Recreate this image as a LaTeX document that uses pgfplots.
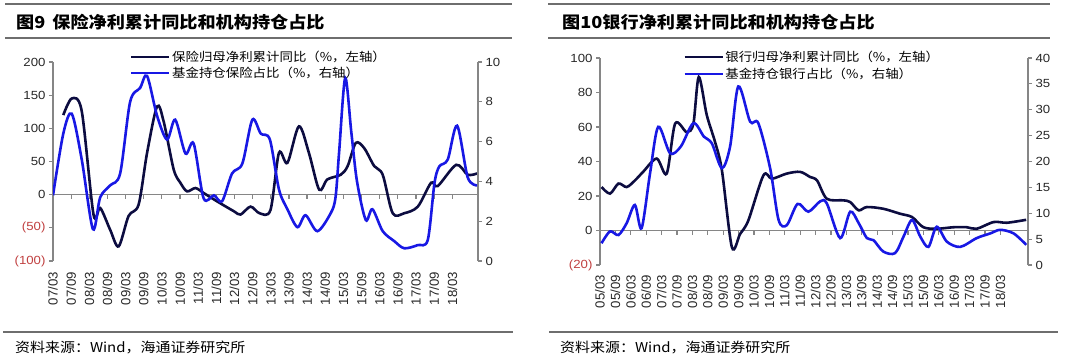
\documentclass[border=0pt]{standalone}
\usepackage{pgfplots}
\pgfplotsset{compat=1.18}
\usepackage{pgfplotstable}
\usepackage{fontspec}
\setmainfont{Liberation Sans}
\newfontfamily\cjk[FakeStretch=1.1]{Noto Sans CJK SC}
\newfontfamily\ytf[FakeStretch=1.12]{Liberation Sans}
\definecolor{navy}{RGB}{12,12,64}
\definecolor{bl}{RGB}{24,24,228}
\definecolor{axgray}{RGB}{134,134,134}
\definecolor{negred}{RGB}{192,64,64}
\definecolor{rulegray}{RGB}{110,110,110}
\definecolor{lbl}{RGB}{40,40,40}

\pgfplotstableread{
m v
3.4 120
6.2 145
9.5 126
13.4 -30
15.6 -20
18.9 -53
21.7 -78
25 -32
28.3 -15
31.1 63
34.4 133
36.6 110
39.9 38
42.1 18
44.3 5
47.1 10
49.8 2.5
54.2 -10
59.8 -25
62 -30
65.3 -18
68.3 -28
71.9 -23
74.7 63
77.5 48
81.3 103
84.6 63
88 7.5
90.7 23
95.1 30
97.4 43
100.1 78
102.9 70
106.2 43
109 30
112.3 -28
116.1 -28
120.6 -18
125 18
127.2 13
133.3 45
137.1 30
140.2 32
}\insA

\pgfplotstableread{
m v
0 3.3
3.4 6.4
6.2 7.4
9.5 5.1
13.2 1.6
15.6 3.2
18.9 3.8
22.2 4.4
25.5 8.0
28.8 8.7
31.1 9.3
34.4 7.3
37.7 6.1
40.4 7.1
43.8 5.4
46.5 5.9
49.8 3.15
53.2 3.3
55.9 3.0
59.2 4.4
62.6 4.9
65.9 7.1
68.7 6.4
71.7 6.1
74.7 3.6
77.5 2.6
80.8 1.7
83.5 2.3
87.4 1.5
91.8 2.4
93.4 3.2
94.6 5.5
96.6 9.2
98.6 6.5
100.5 4
103.4 2.06
105.6 2.6
109 1.5
112.8 1.0
116.1 0.64
120.6 0.8
123.9 1.06
126.1 3.9
127.7 4.75
130.5 5.1
133.6 6.8
137.1 4.2
140.2 3.8
}\insB

\pgfplotstableread{
m v
0.6 25.2
3.9 21.4
7.2 27.2
10.4 25.2
13.6 29
16.8 34
22.1 41.7
26 33
29.3 62
33.8 57
36.4 62
38.5 89
41.6 67
44.8 51.5
47.5 35
51.4 -9.7
54.6 -2
57.8 5.8
63.7 32
67 30
72.8 33
78 34
81.9 31
84.6 29
88.4 18.4
94.8 17.5
97.5 16.5
100.8 11.7
104 13.6
110.4 12.6
117 9.7
121.6 7.8
126 1.9
131.2 1
137.8 1.9
143 1.9
146.8 1
153.4 4.9
158.6 4.5
166.1 6.2
}\bankA

\pgfplotstableread{
m v
0.6 4.2
3.9 6.5
7.2 5.8
10.4 8.1
13.6 11.6
16.2 7.1
19.5 17.7
22.7 26.7
27.3 21.6
31.5 22.9
36.4 27.4
40.5 24.8
43.6 23.5
47.5 18.7
50.7 22.9
53.9 34.5
58.5 27.7
61.7 27.4
66.3 18.7
69.6 8.7
72.8 7.7
77 11.8
81.2 10.3
85.8 12.3
88.4 11.9
93.6 5.2
97.5 10.3
100.8 8.1
104 5.2
106.6 4.8
110.4 2.6
115 2.3
118.3 5.5
121.6 8.7
124.8 5.5
128 3.5
131.2 7.4
135.2 4.5
140.4 3.5
146.8 5.2
152.1 6.1
156 6.8
161.2 6.1
166.1 3.9
}\bankB

\pgfplotsset{
  base/.style={scale only axis, anchor=south west,
    /pgf/number format/assume math mode=true,
    axis line style={axgray, line width=1.2pt},
    tick style={axgray, line width=1.2pt},
    major tick length=4pt, tick align=outside,
    hide obscured x ticks=false, hide obscured y ticks=false,
    yticklabel style={font=\ytf\fontsize{11.8}{12}\selectfont, text=lbl},
    xticklabel style={rotate=90, anchor=east, font=\fontsize{13.2}{14}\selectfont, text=lbl},
    legend cell align=left,
    legend style={draw=none, fill=none, inner sep=0pt, row sep=1.5pt,
      font=\cjk\fontsize{12.2}{13}\selectfont, text=black,
      nodes={inner sep=1.5pt}},
    legend image code/.code={\draw[#1] (0pt,0pt) -- (38pt,0pt);},
  },
  ser/.style={line width=2.6pt, smooth, tension=0.5},
}

\begin{document}
\begin{tikzpicture}[x=1pt,y=1pt]
\useasboundingbox (0,0) rectangle (1080,354);

% ---------------- left panel ----------------
\draw[rulegray, line width=1.4pt] (5,350) -- (512,350);
\draw[rulegray, line width=1.4pt] (5,316) -- (512,316);
\draw[rulegray, line width=1.4pt] (3,22) -- (513,22);
\node[anchor=west, inner sep=0pt] at (16,332) {\cjk\bfseries\fontsize{16.5}{18}\selectfont 图9\hspace{7pt}保险净利累计同比和机构持仓占比};
\node[anchor=west, inner sep=0pt] at (15,7) {\cjk\fontsize{13.6}{15}\selectfont 资料来源：Wind，海通证券研究所};

\begin{axis}[base, at={(53pt,93pt)}, width=425pt, height=199pt,
  xmin=0, xmax=140.5, ymin=-100, ymax=200,
  axis x line*=middle, axis y line*=left,
  xtick={0,6,...,132},
  xticklabels={07/03,07/09,08/03,08/09,09/03,09/09,10/03,10/09,11/03,11/09,12/03,12/09,13/03,13/09,14/03,14/09,15/03,15/09,16/03,16/09,17/03,17/09,18/03},
  xticklabel shift=70pt,
  ytick={-100,-50,0,50,100,150,200},
  yticklabels={\textcolor{negred}{(100)},\textcolor{negred}{(50)},0,50,100,150,200},
  ]
\addplot[navy, ser] table {\insA};
\end{axis}
\begin{axis}[base, at={(53pt,93pt)}, width=425pt, height=199pt,
  xmin=0, xmax=140.5, ymin=0, ymax=10,
  axis x line=none, axis y line*=right,
  ytick={0,2,...,10},
  yticklabels={0,2,4,6,8,10},
  legend style={at={(0.181,1.065)}, anchor=north west},
  ]
\addlegendimage{navy, line width=2pt}
\addlegendentry{保险归母净利累计同比（\%，左轴）}
\addplot[bl, ser] table {\insB};
\addlegendentry{基金持仓保险占比（\%，右轴）}
\end{axis}

% ---------------- right panel ----------------
\draw[rulegray, line width=1.4pt] (548,350) -- (1050,350);
\draw[rulegray, line width=1.4pt] (548,316) -- (1050,316);
\draw[rulegray, line width=1.4pt] (549,22) -- (1058,22);
\node[anchor=west, inner sep=0pt] at (562,332) {\cjk\bfseries\fontsize{16.5}{18}\selectfont 图10银行净利累计同比和机构持仓占比};
\node[anchor=west, inner sep=0pt] at (560,7) {\cjk\fontsize{13.6}{15}\selectfont 资料来源：Wind，海通证券研究所};

\begin{axis}[base, at={(600pt,89pt)}, width=428pt, height=207pt,
  xmin=0, xmax=166.8, ymin=-20, ymax=100,
  axis x line*=middle, axis y line*=left,
  xtick={0,6,...,156},
  xticklabels={05/03,05/09,06/03,06/09,07/03,07/09,08/03,08/09,09/03,09/09,10/03,10/09,11/03,11/09,12/03,12/09,13/03,13/09,14/03,14/09,15/03,15/09,16/03,16/09,17/03,17/09,18/03},
  xticklabel shift=37pt,
  ytick={-20,0,20,40,60,80,100},
  yticklabels={\textcolor{negred}{(20)},0,20,40,60,80,100},
  ]
\addplot[navy, ser] table {\bankA};
\end{axis}
\begin{axis}[base, at={(600pt,89pt)}, width=428pt, height=207pt,
  xmin=0, xmax=166.8, ymin=0, ymax=40,
  axis x line=none, axis y line*=right,
  ytick={0,5,...,40},
  yticklabels={0,5,10,15,20,25,30,35,40},
  legend style={at={(0.194,1.04)}, anchor=north west},
  ]
\addlegendimage{navy, line width=2pt}
\addlegendentry{银行归母净利累计同比（\%，左轴）}
\addplot[bl, ser] table {\bankB};
\addlegendentry{基金持仓银行占比（\%，右轴）}
\end{axis}
\end{tikzpicture}
\end{document}
